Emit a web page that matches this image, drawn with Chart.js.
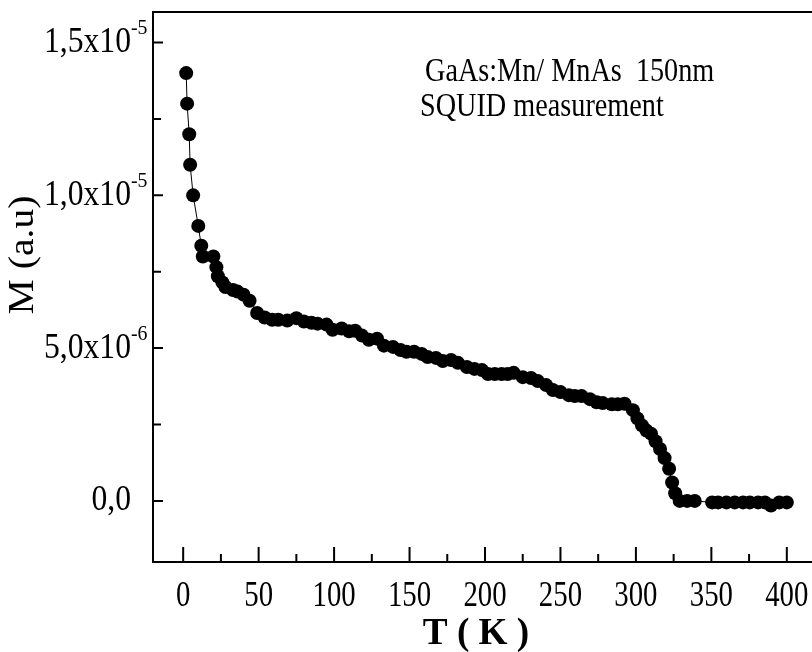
<!DOCTYPE html>
<html>
<head>
<meta charset="utf-8">
<script src="https://cdn.jsdelivr.net/npm/chart.js@4.4.1/dist/chart.umd.min.js"></script>
<style>
  html, body { margin: 0; padding: 0; background: #fff; overflow: hidden; }
  #wrap { width: 830px; height: 652px; }
</style>
</head>
<body>
<div id="wrap"><canvas id="chartSquid"></canvas></div>
<script>
// M(T) of GaAs:Mn/MnAs 150nm, SQUID
const temperature = [
  2, 2.6, 4, 4.6, 6.6, 10, 12, 13, 20, 22, 23, 26, 28, 33, 36, 40, 44, 49,
  54, 59, 63, 69, 75, 80, 85, 89, 95, 99, 105, 110, 114, 118.5, 123, 128.5,
  133, 139, 144, 148, 153, 158, 162, 167.5, 172, 177.5, 182, 188, 193, 198,
  202, 206.5, 211, 215, 219, 225, 230.5, 235, 240.5, 245, 250, 255.5, 259.5,
  264, 269.5, 274, 278, 284, 288, 292.5, 298, 301, 304, 307, 310, 313, 316,
  319, 322, 324, 326, 329, 334, 339, 350.5, 354.5, 360, 365.5, 371, 375.5,
  381, 385.5, 389.5, 395, 400
];
const magnetization = [
  14.0e-6, 13.0e-6, 12.0e-6, 11.0e-6, 10.0e-6, 9.0e-6, 8.35e-6, 8.0e-6, 8.0e-6,
  7.65e-6, 7.35e-6, 7.15e-6, 7.0e-6, 6.9e-6, 6.85e-6, 6.75e-6, 6.55e-6, 6.15e-6,
  6.0e-6, 5.93e-6, 5.93e-6, 5.9e-6, 5.98e-6, 5.87e-6, 5.83e-6, 5.8e-6, 5.77e-6,
  5.6e-6, 5.64e-6, 5.55e-6, 5.57e-6, 5.41e-6, 5.27e-6, 5.31e-6,
  5.08e-6, 5.04e-6, 4.94e-6, 4.88e-6, 4.88e-6, 4.81e-6, 4.71e-6, 4.68e-6, 4.58e-6,
  4.61e-6, 4.52e-6, 4.38e-6, 4.32e-6, 4.28e-6,
  4.15e-6, 4.15e-6, 4.15e-6, 4.15e-6, 4.19e-6, 4.05e-6, 4.02e-6, 3.92e-6, 3.79e-6,
  3.63e-6, 3.56e-6, 3.46e-6, 3.43e-6,
  3.43e-6, 3.33e-6, 3.23e-6, 3.2e-6, 3.16e-6, 3.16e-6, 3.18e-6, 2.97e-6, 2.7e-6,
  2.47e-6, 2.3e-6, 2.2e-6, 1.95e-6, 1.7e-6,
  1.4e-6, 1.05e-6, 0.6e-6, 0.25e-6, 0.0, 0.0, 0.0, -0.05e-6, -0.05e-6, -0.05e-6,
  -0.05e-6, -0.05e-6, -0.05e-6, -0.05e-6, -0.05e-6, -0.15e-6, -0.05e-6, -0.05e-6
];

const xTicks = [0, 50, 100, 150, 200, 250, 300, 350, 400];
const xMinorTicks = [25, 75, 125, 175, 225, 275, 325, 375];
const yTicks = [0, 5e-6, 1e-5, 1.5e-5];
const yMinorTicks = [2.5e-6, 7.5e-6, 1.25e-5];
const yTickLabels = [["0,0", ""], ["5,0x10", "-6"], ["1,0x10", "-5"], ["1,5x10", "-5"]];

const FONT = '"Liberation Serif", "Times New Roman", serif';

// text squeezed horizontally, like the Origin export
function squeezed(ctx, str, x, y, size, opts = {}) {
  const sx = opts.sx || 0.88;
  ctx.save();
  ctx.font = (opts.bold ? "bold " : "") + size + "px " + FONT;
  ctx.textBaseline = opts.baseline || "middle";
  ctx.textAlign = "left";
  const w = ctx.measureText(str).width * sx;
  let left = x;
  if (opts.align === "right") left = x - w;
  else if (opts.align === "center") left = x - w / 2;
  ctx.translate(left, y);
  ctx.scale(sx, 1);
  ctx.fillStyle = "#000";
  ctx.fillText(str, 0, 0);
  ctx.restore();
  return w;
}

const framePlugin = {
  id: "frame",
  afterDraw(chart) {
    const { ctx, chartArea: a, scales: { x, y } } = chart;
    ctx.save();
    ctx.strokeStyle = "#000";
    ctx.lineWidth = 2;
    ctx.beginPath();
    ctx.rect(a.left, a.top, a.right - a.left, a.bottom - a.top);
    ctx.stroke();

    // inward ticks
    ctx.beginPath();
    xTicks.forEach((v) => {
      const px = x.getPixelForValue(v);
      ctx.moveTo(px, a.bottom); ctx.lineTo(px, a.bottom - 15);
    });
    xMinorTicks.forEach((v) => {
      const px = x.getPixelForValue(v);
      ctx.moveTo(px, a.bottom); ctx.lineTo(px, a.bottom - 8);
    });
    yTicks.forEach((v) => {
      const py = y.getPixelForValue(v);
      ctx.moveTo(a.left, py); ctx.lineTo(a.left + 10, py);
    });
    yMinorTicks.forEach((v) => {
      const py = y.getPixelForValue(v);
      ctx.moveTo(a.left, py); ctx.lineTo(a.left + 8, py);
    });
    ctx.stroke();
    ctx.restore();

    // tick labels
    xTicks.forEach((v) => {
      squeezed(ctx, String(v), x.getPixelForValue(v), 597, 36, { align: "center", sx: 0.8 });
    });
    yTicks.forEach((v, i) => {
      const py = y.getPixelForValue(v);
      const [base, exp] = yTickLabels[i];
      squeezed(ctx, base, 131, py, 36, { align: "right", sx: 0.88 });
      if (exp) squeezed(ctx, exp, 131, py - 14, 22, { sx: 0.9 });
    });

    // axis titles
    squeezed(ctx, "T ( K )", 476, 634, 38, { align: "center", bold: true, sx: 0.98 });
    ctx.save();
    ctx.translate(24, 255);
    ctx.rotate(-Math.PI / 2);
    squeezed(ctx, "M (a.u)", 0, 0, 36, { align: "center", sx: 1.1 });
    ctx.restore();

    // annotation
    squeezed(ctx, "GaAs:Mn/ MnAs  150nm", 425, 72, 34, { sx: 0.83 });
    squeezed(ctx, "SQUID measurement", 420, 107, 34, { sx: 0.83 });
  },
};

document.addEventListener("DOMContentLoaded", () => {
  const ctx = document.getElementById("chartSquid").getContext("2d");
  const points = temperature.map((t, i) => ({ x: t, y: magnetization[i] }));

  new Chart(ctx, {
    type: "scatter",
    data: {
      datasets: [{
        data: points,
        showLine: true,
        borderColor: "#000",
        borderWidth: 1,
        backgroundColor: "#000",
        pointBackgroundColor: "#000",
        pointBorderColor: "#000",
        pointBorderWidth: 0,
        pointRadius: 7,
        pointHoverRadius: 7,
      }],
    },
    options: {
      responsive: true,
      maintainAspectRatio: false,
      animation: false,
      events: [],
      layout: { padding: { top: 12, right: 13, left: 0, bottom: 0 } },
      plugins: { legend: { display: false }, tooltip: { enabled: false } },
      scales: {
        x: {
          type: "linear",
          min: -20,
          max: 420,
          grid: { display: false, drawTicks: false },
          border: { display: false },
          ticks: { display: false },
          afterFit: (s) => { s.height = 90; },
        },
        y: {
          type: "linear",
          min: -2e-6,
          max: 1.6e-5,
          grid: { display: false, drawTicks: false },
          border: { display: false },
          ticks: { display: false },
          afterFit: (s) => { s.width = 153; },
        },
      },
    },
    plugins: [framePlugin],
  });
});
</script>
</body>
</html>
